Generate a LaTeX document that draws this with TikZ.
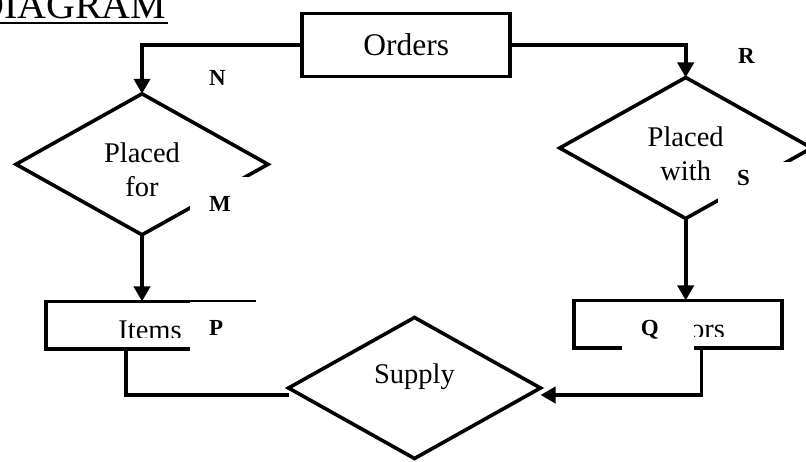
\documentclass[tikz,border=0pt]{standalone}
\usepackage{fontspec}
\setmainfont{Liberation Serif}
\usetikzlibrary{shapes.geometric, arrows.meta}

\tikzset{
  entity/.style={rectangle, draw, line width=3.6pt, outer sep=0pt, minimum width=208pt, minimum height=47.5pt, font=\fontsize{28.5}{34.3}\selectfont},
  relation/.style={diamond, aspect=1.8, draw, line width=3.6pt, outer sep=0pt, minimum width=252pt, minimum height=141pt, align=center, font=\fontsize{28.5}{34.3}\selectfont},
  twolines/.style={text height=65pt, text depth=0pt},
  card/.style={fill=white, anchor=north west, inner xsep=19pt, inner ysep=19pt, text width=34pt, align=left, text height=15pt, text depth=0pt, font=\bfseries\fontsize{23}{23}\selectfont},
  link/.style={line width=3.8pt},
  flow/.style={line width=3.8pt, -{Triangle[length=15pt, width=16pt]}},
}

\begin{document}
\begin{tikzpicture}[x=1pt, y=-1pt]
            \useasboundingbox (0, 0) rectangle (806, 462);

            \node (title) at (166.5, 18.3) [anchor=base east, inner sep=0pt, font=\fontsize{40}{40}\selectfont] {DIAGRAM};
            \draw[line width=2.3pt] ([yshift=-4.5pt, xshift=-10pt]title.base west) -- ([yshift=-4.5pt, xshift=1.5pt]title.base east);

            \node (orders) at (406.2, 44.9) [entity, minimum height=63pt, font=\fontsize{31.5}{34}\selectfont] {Orders};
            \node (items) at (150, 325.2) [entity] {};
            \node (vendors) at (678.2, 324.2) [entity] {};

            \node (placedfor) at (142, 164.3) [relation, twolines] {Placed\\for};
            \node (placedwith) at (685.7, 148) [relation, twolines] {Placed\\with};
            \node (supply) at (414.5, 388) [relation, text height=20pt, text depth=29.4pt] {Supply};

            \begin{scope}
                \clip (items.north west) rectangle ([yshift=11pt]items.south east)
                      (vendors.north west) rectangle ([yshift=11pt]vendors.south east);
                \node (itemsname) at (items) [text height=28pt, text depth=0pt, font=\fontsize{28.5}{34.3}\selectfont] {Items};
                \node (vendorsname) at (vendors) [text height=28pt, text depth=0pt, font=\fontsize{28.5}{34.3}\selectfont] {Vendors};
            \end{scope}

            \draw[flow] (orders.west) -| (placedfor.north);
            \draw[flow] (orders.east) -| (placedwith.north);

            \draw[flow] (placedfor.south) -- (placedfor.south |- items.north);
            \draw[flow] (placedwith.south) -- (placedwith.south |- vendors.north);

            \draw[link] ([xshift=-24pt]items.south) |- ([yshift=-7pt]supply.west);
            \draw[flow] ([xshift=23.3pt]vendors.south) |- ([yshift=-7pt]supply.east);

            \node (n) at (190, 51) [card] {N};
            \node (m) at (190, 177) [card] {M};
            \node (p) at (190, 301.7) [card] {P};
            \node (q) at (621.7, 301.7) [card] {Q};
            \node (r) at (719, 29) [card] {R};
            \node (s) at (718, 162) [card, inner ysep=8pt, text depth=22pt] {S};

\end{tikzpicture}
\end{document}
